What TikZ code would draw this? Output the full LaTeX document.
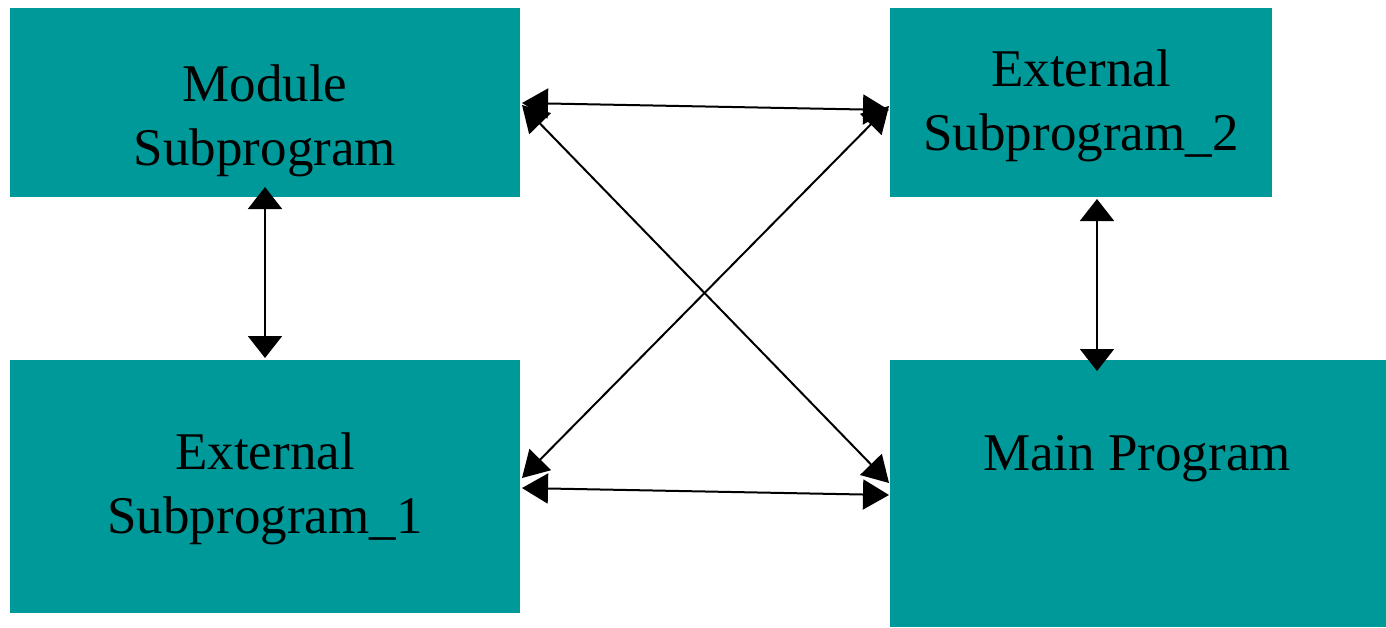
\documentclass[tikz,border=0pt]{standalone}
\usepackage{fontspec}
\setmainfont{Liberation Serif}
\usetikzlibrary{arrows.meta}
\definecolor{boxteal}{HTML}{009999}
\begin{document}
\begin{tikzpicture}[x=1pt,y=-1pt,
  unitbox/.style={fill=boxteal,draw=none,inner sep=0pt,outer sep=0pt,anchor=north west},
  boxtext/.style={font=\fontsize{53}{64}\selectfont,align=center,inner sep=0pt,anchor=base},
  link/.style={line width=2pt,{Triangle[length=26pt,width=30pt]}-{Triangle[length=26pt,width=30pt]}},
  vlink/.style={line width=2pt,{Triangle[length=22pt,width=34pt]}-{Triangle[length=22pt,width=34pt]}}]
  \useasboundingbox (0,0) rectangle (1386,627);
  % the four program units
  \node[unitbox,minimum width=510pt,minimum height=189pt] (mod)  at (10,8)   {};
  \node[unitbox,minimum width=382pt,minimum height=189pt] (ext2) at (890,8)  {};
  \node[unitbox,minimum width=510pt,minimum height=253pt] (ext1) at (10,360) {};
  \node[unitbox,minimum width=496pt,minimum height=267pt] (main) at (890,360){};
  % their names (base anchor sits on the last line)
  \node[boxtext] (modtxt)  at (265,165)  {Module\\Subprogram};
  \node[boxtext] (ext2txt) at (1081,150) {External\\Subprogram\_2};
  \node[boxtext] (ext1txt) at (265,533)  {External\\Subprogram\_1};
  \node[boxtext] (maintxt) at (1137,470) {Main Program};
  % vertical links
  \draw[vlink] ([yshift=10pt]mod.south) -- ([yshift=2pt]ext1.north);
  \draw[vlink] ([xshift=16pt,yshift=-2pt]ext2.south) -- ([xshift=-41pt,yshift=-11pt]main.north);
  % horizontal links
  \draw[link] ([xshift=2pt,yshift=-0.5pt]mod.east) -- ([xshift=-1pt,yshift=-7.5pt]ext2.west);
  \draw[link] ([xshift=2pt,yshift=-1.5pt]ext1.east) -- ([xshift=-1pt,yshift=-1.5pt]main.west);
  % crossing links
  \draw[link] ([xshift=2pt,yshift=-2.5pt]mod.east) -- ([xshift=-1pt,yshift=10.5pt]main.west);
  \draw[link] ([xshift=2pt,yshift=8.5pt]ext1.east) -- ([xshift=-1pt,yshift=-3.5pt]ext2.west);
\end{tikzpicture}
\end{document}
